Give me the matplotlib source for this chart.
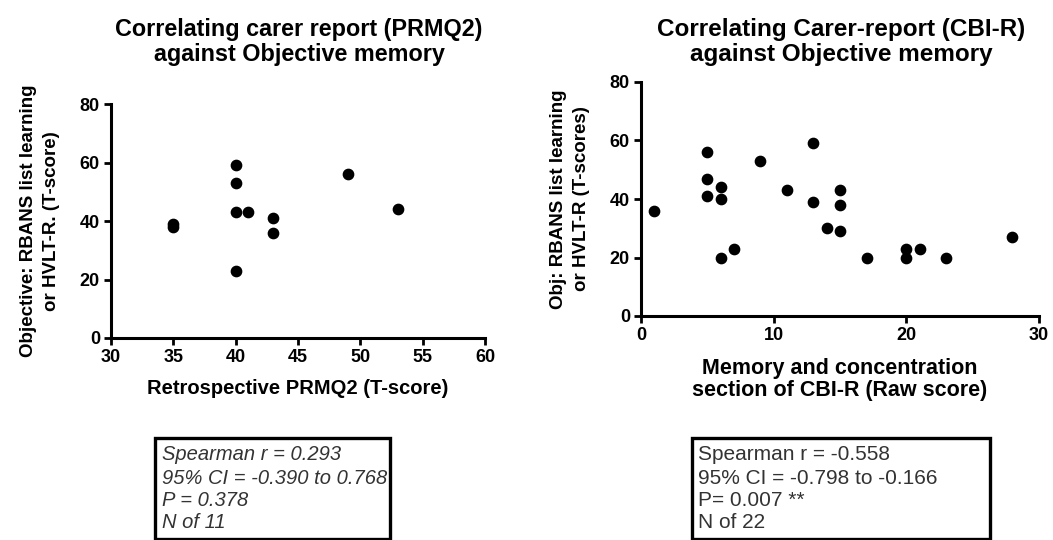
import matplotlib
matplotlib.use("Agg")
import matplotlib.pyplot as plt
from matplotlib.patches import Rectangle

plt.rcParams['font.family'] = ['Liberation Sans', 'DejaVu Sans']

# Left panel: PRMQ2 vs objective memory
prmq2_x = [35, 35, 40, 40, 40, 41, 43, 43, 40, 49, 53]
prmq2_y = [39, 38, 59, 53, 43, 43, 41, 36, 23, 56, 44]

# Right panel: CBI-R vs objective memory
cbir_x = [1, 5, 5, 5, 6, 6, 6, 7, 9, 11, 13, 13, 14, 15, 15, 15, 17, 20, 20, 21, 23, 28]
cbir_y = [36, 56, 47, 41, 44, 40, 20, 23, 53, 43, 59, 39, 30, 43, 38, 29, 20, 23, 20, 23, 20, 27]

left_title = "Correlating carer report (PRMQ2)\nagainst Objective memory"
right_title = "Correlating Carer-report (CBI-R)\nagainst Objective memory"
left_xlabel = "Retrospective PRMQ2 (T-score)"
left_ylabel = "Objective: RBANS list learning\nor HVLT-R. (T-score)"
right_xlabel = "Memory and concentration\nsection of CBI-R (Raw score)"
right_ylabel = "Obj: RBANS list learning\nor HVLT-R (T-scores)"
left_stats = ["Spearman r = 0.293", "95% CI = -0.390 to 0.768", "P = 0.378", "N of 11"]
right_stats = ["Spearman r = -0.558", "95% CI = -0.798 to -0.166", "P= 0.007 **", "N of 22"]

W, H = 1053, 540
fig = plt.figure(figsize=(W / 100, H / 100), dpi=100)


def px_axes(x0, x1, ytop, ybot):
    return fig.add_axes([x0 / W, (H - ybot) / H, (x1 - x0) / W, (ybot - ytop) / H])


def style(ax):
    for s in ['top', 'right']:
        ax.spines[s].set_visible(False)
    for s in ['left', 'bottom']:
        ax.spines[s].set_linewidth(2.2)
    ax.tick_params(width=2.0, length=5, labelsize=13, direction='out', pad=3)
    for lab in ax.get_xticklabels() + ax.get_yticklabels():
        lab.set_fontweight('bold')


axL = px_axes(111, 485, 104, 338)
axL.scatter(prmq2_x, prmq2_y, s=55, color='black', zorder=3, clip_on=False)
axL.set_xlim(30, 60)
axL.set_ylim(0, 80)
axL.set_xticks([30, 35, 40, 45, 50, 55, 60])
axL.set_yticks([0, 20, 40, 60, 80])
style(axL)
axL.set_xlabel(left_xlabel, fontsize=14.5, fontweight='bold', labelpad=9)
axL.set_ylabel(left_ylabel, fontsize=13.5, fontweight='bold', labelpad=14,
               linespacing=1.45)
fig.text(299 / W, 1 - 42 / H, left_title, ha='center', va='center',
         fontsize=16.8, fontweight='bold', linespacing=1.15)

axR = px_axes(641, 1039, 82, 316)
axR.scatter(cbir_x, cbir_y, s=55, color='black', zorder=3, clip_on=False)
axR.set_xlim(0, 30)
axR.set_ylim(0, 80)
axR.set_xticks([0, 10, 20, 30])
axR.set_yticks([0, 20, 40, 60, 80])
style(axR)
axR.set_xlabel(right_xlabel, fontsize=15.5, fontweight='bold', labelpad=10, linespacing=1.08)
axR.set_ylabel(right_ylabel, fontsize=13.5, fontweight='bold', labelpad=14,
               linespacing=1.5)
fig.text(841 / W, 1 - 42 / H, right_title, ha='center', va='center',
         fontsize=17.5, fontweight='bold', linespacing=1.1)


def stats_box(x0, x1, ytop, ybot, tx, lines, style_, fs):
    rect = Rectangle((x0 / W, (H - ybot) / H), (x1 - x0) / W, (ybot - ytop) / H,
                     transform=fig.transFigure, fill=False, edgecolor='black',
                     linewidth=2.4)
    fig.add_artist(rect)
    ys = [455, 478, 500, 522]
    for y, t in zip(ys, lines):
        fig.text(tx / W, 1 - y / H, t, ha='left', va='center', fontsize=fs,
                 fontstyle=style_, color='#333333')


stats_box(155, 390, 438, 539, 162, left_stats, 'italic', 14.5)
stats_box(692, 990, 438, 539, 698, right_stats, 'normal', 15)

fig.savefig("out.png", dpi=100)
